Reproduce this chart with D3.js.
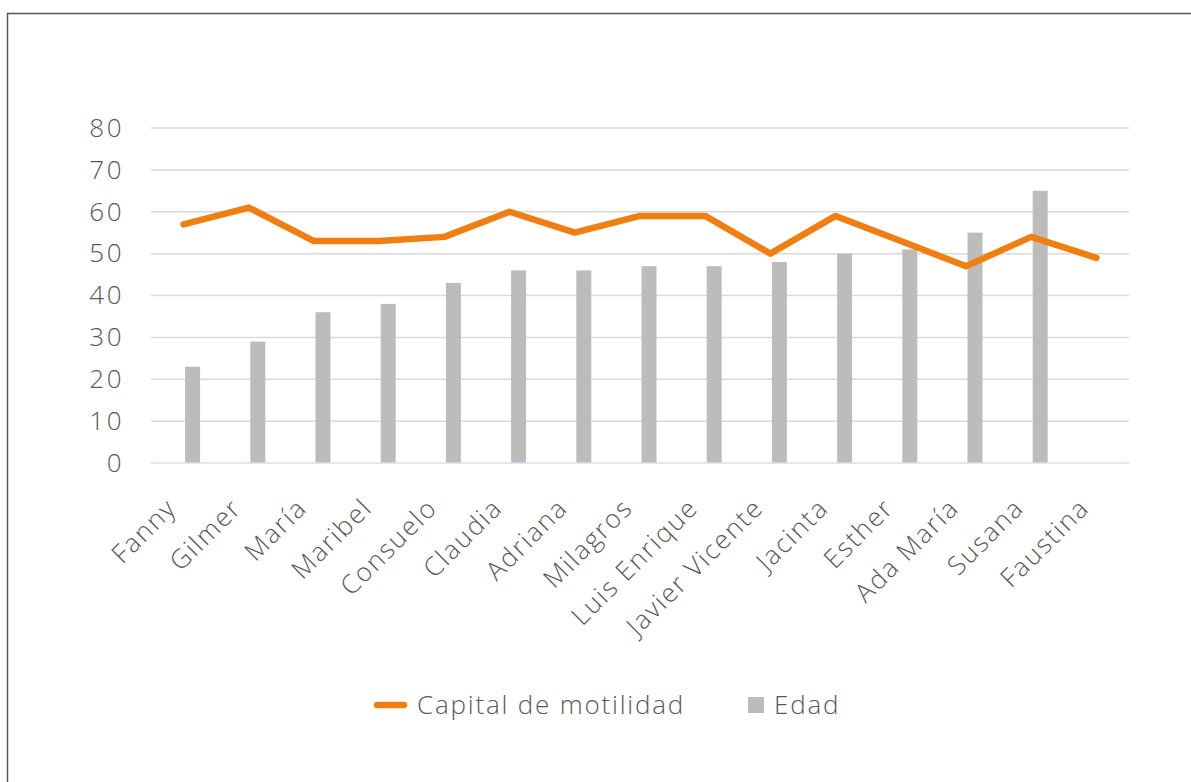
<!DOCTYPE html>
<html>
<head>
<meta charset="utf-8">
<script src="https://cdn.jsdelivr.net/npm/d3@7"></script>
<style>
  body { margin: 0; background: #fff; }
  svg text { font-family: "Open Sans", sans-serif; fill: #595959; font-weight: 300; }
</style>
</head>
<body>
<svg width="1191" height="782"></svg>
<script>
var names = ["Fanny", "Gilmer", "María", "Maribel", "Consuelo", "Claudia", "Adriana", "Milagros",
  "Luis Enrique", "Javier Vicente", "Jacinta", "Esther", "Ada María", "Susana", "Faustina"];
var capital = [57, 61, 53, 53, 54, 60, 55, 59, 59, 50, 59, 53, 47, 54, 49];
var edad = [23, 29, 36, 38, 43, 46, 46, 47, 47, 48, 50, 51, 55, 65, null];
var yTicks = [0, 10, 20, 30, 40, 50, 60, 70, 80];

var svg = d3.select("svg"),
    margin = {top: 128, right: 62, bottom: 319, left: 151},
    width = svg.attr("width") - margin.left - margin.right,
    height = svg.attr("height") - margin.top - margin.bottom;

// outer frame (cut off at right and bottom)
svg.append("rect")
    .attr("x", 7.5).attr("y", 13.5)
    .attr("width", 1200).attr("height", 800)
    .attr("fill", "none")
    .attr("stroke", "#595959")
    .attr("stroke-width", 1.5);

var g = svg.append("g").attr("transform", "translate(" + margin.left + "," + margin.top + ")");

var x = d3.scaleBand().domain(names).range([0, width]),
    y = d3.scaleLinear().domain([0, 80]).range([height, 0]);

// grid lines
g.selectAll(".grid")
  .data(yTicks.filter(function(d) { return d > 0; }))
  .enter().append("line")
    .attr("class", "grid")
    .attr("x1", 0).attr("x2", width)
    .attr("y1", function(d) { return y(d); })
    .attr("y2", function(d) { return y(d); })
    .attr("stroke", "#d9d9d9")
    .attr("stroke-width", 1.5);

// y axis labels
var yAxis = g.append("g")
    .call(d3.axisLeft(y).tickValues(yTicks).tickSize(0).tickPadding(27));
yAxis.select(".domain").remove();
yAxis.selectAll("text")
    .style("font-size", "26px")
    .style("letter-spacing", "2.5px")
    .attr("fill", "#595959");

// bars (shifted right, like the excel combo chart)
var barW = 15, barShift = 9;
g.selectAll(".bar")
  .data(edad.map(function(v, i) { return {name: names[i], value: v}; })
        .filter(function(d) { return d.value != null; }))
  .enter().append("rect")
    .attr("class", "bar")
    .attr("x", function(d) { return x(d.name) + x.bandwidth() / 2 + barShift - barW / 2; })
    .attr("y", function(d) { return y(d.value); })
    .attr("width", barW)
    .attr("height", function(d) { return height - y(d.value); })
    .attr("fill", "#bcbcbb");

// baseline
g.append("line")
    .attr("x1", 0).attr("x2", width)
    .attr("y1", height).attr("y2", height)
    .attr("stroke", "#d6dfec")
    .attr("stroke-width", 1.5);

// x axis labels
var xAxis = g.append("g")
    .attr("transform", "translate(0," + height + ")")
    .call(d3.axisBottom(x).tickSize(0).tickPadding(0));
xAxis.select(".domain").remove();
xAxis.selectAll("text")
    .style("font-size", "26px")
    .style("letter-spacing", "1.8px")
    .attr("fill", "#595959")
    .attr("text-anchor", "end")
    .attr("dy", "0.35em")
    .attr("transform", "translate(-12,40) rotate(-45)");

// line
var line = d3.line()
    .x(function(d, i) { return x(names[i]) + x.bandwidth() / 2; })
    .y(function(d) { return y(d); });

g.append("path")
    .datum(capital)
    .attr("d", line)
    .attr("fill", "none")
    .attr("stroke", "#f07f13")
    .attr("stroke-width", 6.5)
    .attr("stroke-linejoin", "round")
    .attr("stroke-linecap", "round");

// legend
var legend = svg.append("g").attr("transform", "translate(0,705)");
legend.append("line")
    .attr("x1", 377).attr("x2", 404)
    .attr("y1", 0).attr("y2", 0)
    .attr("stroke", "#f07f13")
    .attr("stroke-width", 6.5)
    .attr("stroke-linecap", "round");
legend.append("text")
    .attr("x", 417).attr("y", 0)
    .attr("dy", "0.35em")
    .style("font-size", "26px")
    .style("letter-spacing", "1.8px")
    .text("Capital de motilidad");
legend.append("rect")
    .attr("x", 748).attr("y", -8)
    .attr("width", 16).attr("height", 16)
    .attr("fill", "#bcbcbb");
legend.append("text")
    .attr("x", 774).attr("y", 0)
    .attr("dy", "0.35em")
    .style("font-size", "26px")
    .style("letter-spacing", "1.8px")
    .text("Edad");
</script>
</body>
</html>
